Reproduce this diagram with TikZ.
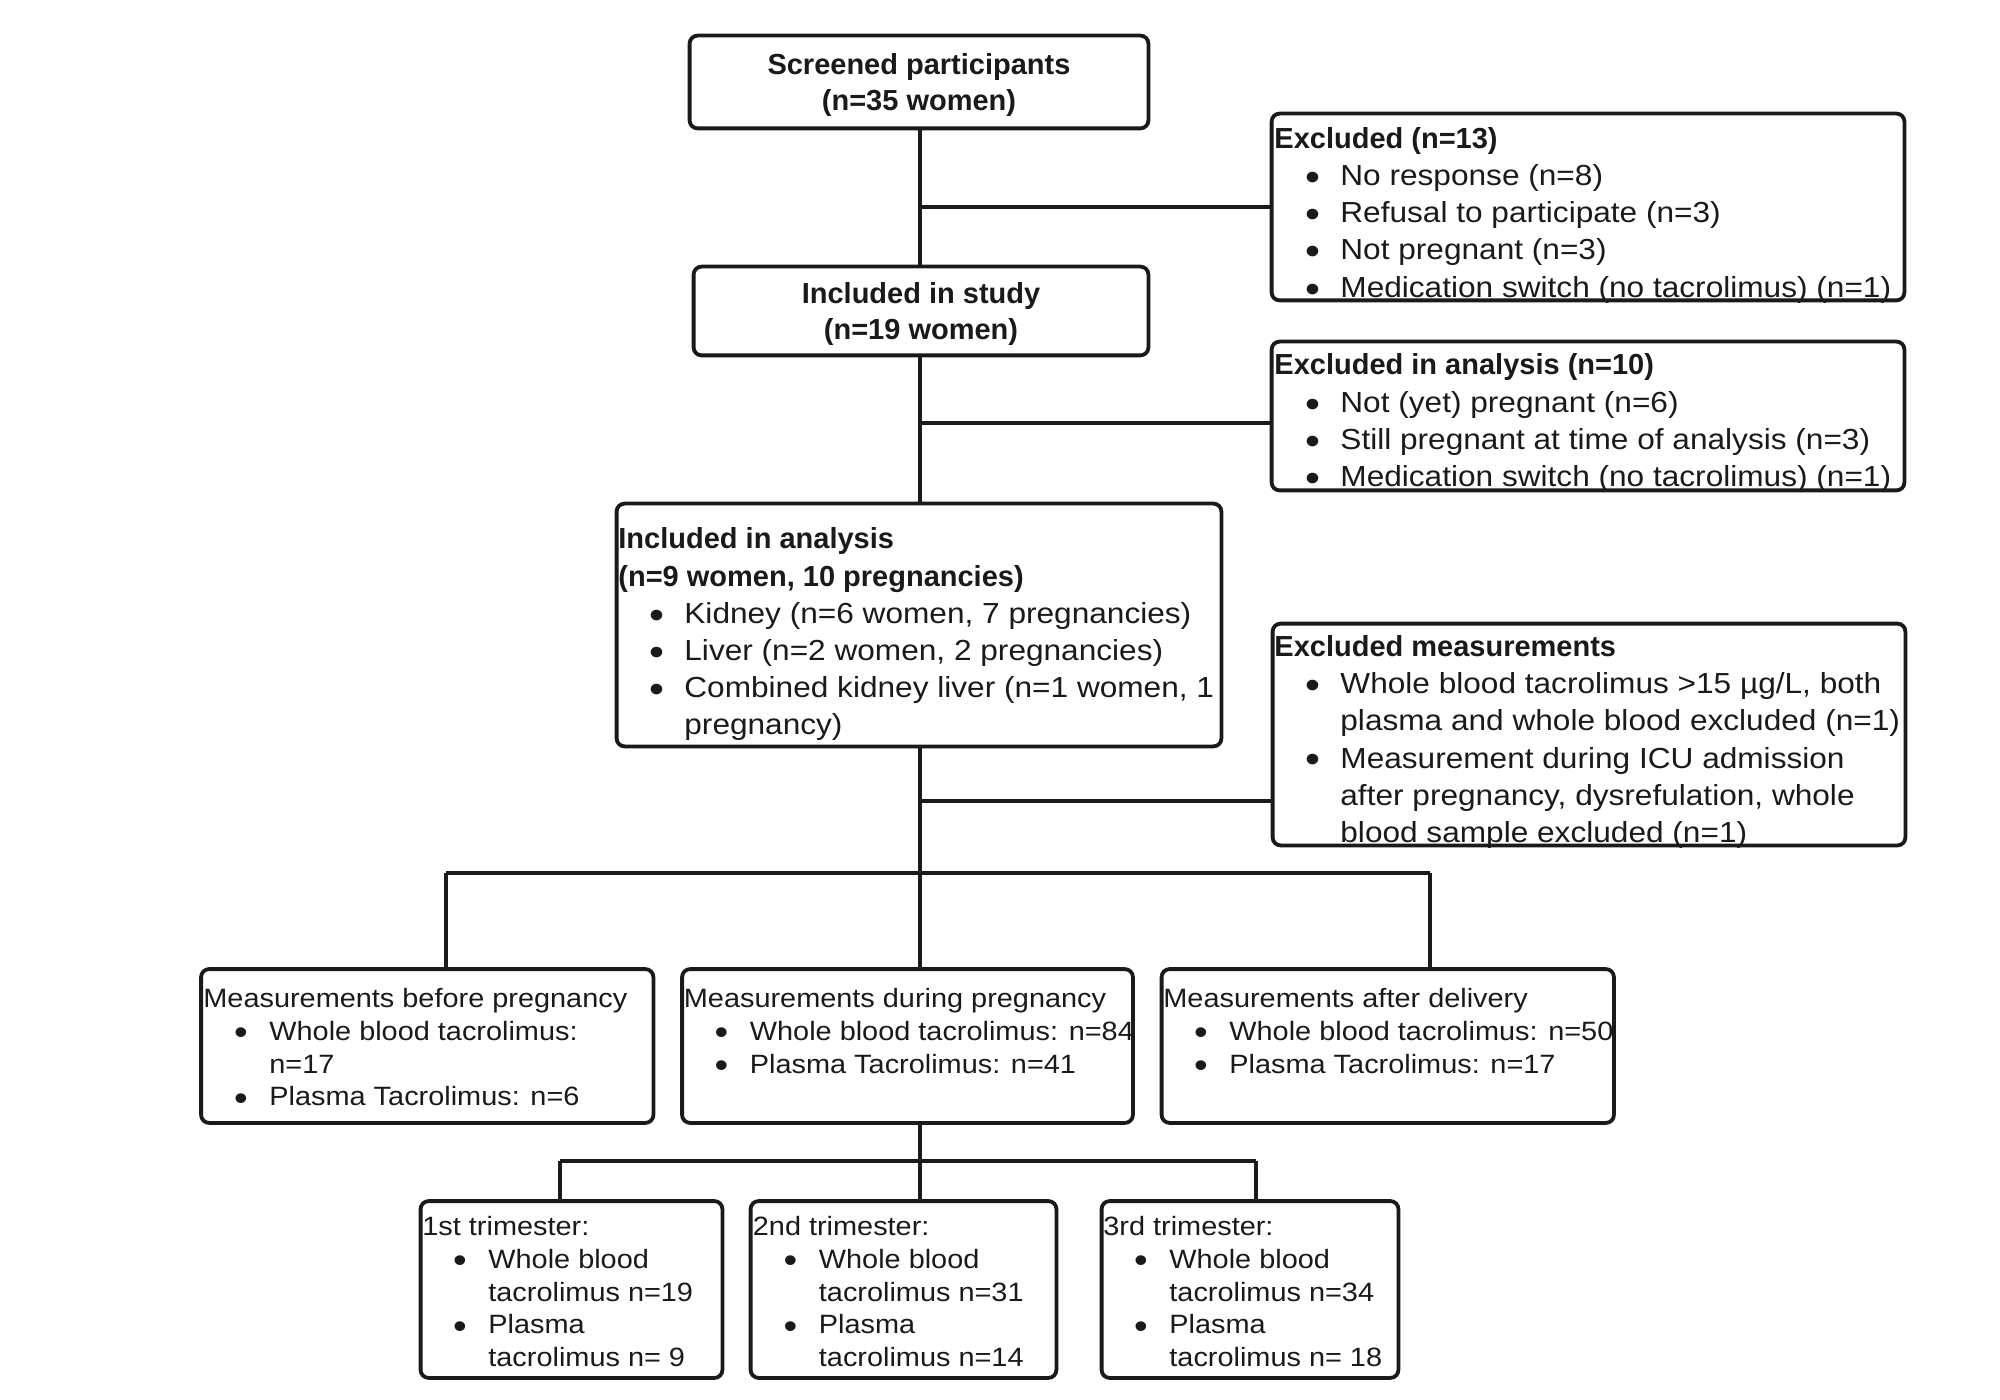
\documentclass[tikz,border=0pt]{standalone}
\usepackage{fontspec}
\setmainfont{Liberation Sans}
\newfontfamily\rg{Liberation Sans}[FakeStretch=1.09]
\usetikzlibrary{fit}
\definecolor{ink}{HTML}{1A1A1A}
\newcommand\bigf{\fontsize{14.5pt}{18.6pt}\selectfont}
\newcommand\smallf{\fontsize{13.25pt}{16.4pt}\selectfont}
\newcommand\stA{\rule{0pt}{12pt}}
\newcommand\stB{\rule{0pt}{11pt}}
\newcommand\bul{\raisebox{-0.17em}{\scalebox{1.35}{•}}}
\newcommand\bli[1]{{\rg\makebox[33pt][l]{\hspace*{15.4pt}\bul}#1}}
\newcommand\cli[1]{{\rg\hspace*{33pt}#1}}
\newcommand\hb[1]{{\bfseries #1}}
\newcommand\hr[1]{{\rg #1}}
\tikzset{
  box/.style={draw=ink, line width=1.9pt, rounded corners=4pt, fill=white, inner sep=0pt},
  conn/.style={draw=ink, line width=1.6pt},
  txtA/.style={anchor=north west, inner sep=0pt, align=left, text=ink, font=\bigf},
  txtB/.style={anchor=north west, inner sep=0pt, align=left, text=ink, font=\smallf},
  ctr/.style={inner sep=0pt, align=center, text=ink, font={\fontsize{14.5pt}{18pt}\selectfont\bfseries}},
}
\begin{document}
\begin{tikzpicture}[x=0.5pt,y=-0.5pt]
\useasboundingbox (0,0) rectangle (2000,1400);
\fill[white] (0,0) rectangle (2000,1400);

% boxes (geometry only)
\node[fit={(690,36) (1148,128)}, inner sep=0pt] (scr) {};
\node[fit={(694,267) (1148,355)}, inner sep=0pt] (stu) {};
\node[fit={(1272,114) (1904,300)}, inner sep=0pt] (ex1) {};
\node[fit={(1272,342) (1904,490)}, inner sep=0pt] (ex2) {};
\node[fit={(617,504) (1221,746)}, inner sep=0pt] (ana) {};
\node[fit={(1273,624) (1905,845)}, inner sep=0pt] (exm) {};
\node[fit={(201.5,969.5) (653,1122.5)}, inner sep=0pt] (bef) {};
\node[fit={(682.5,969.5) (1132.5,1122.5)}, inner sep=0pt] (dur) {};
\node[fit={(1162,969.5) (1613.5,1122.5)}, inner sep=0pt] (aft) {};
\node[fit={(421,1201.5) (722,1377.5)}, inner sep=0pt] (t1) {};
\node[fit={(751,1201.5) (1056,1377.5)}, inner sep=0pt] (t2) {};
\node[fit={(1102,1201.5) (1398,1377.5)}, inner sep=0pt] (t3) {};

% junction coordinates
\coordinate (sp) at (920,0);
\coordinate (j2) at (920,423);
\coordinate (j3) at (920,801);
\coordinate (bus) at (920,873);
\coordinate (bl) at (446,873);
\coordinate (br) at (1430,873);
\coordinate (lb) at (920,1161);
\coordinate (l1) at (560,1161);
\coordinate (l3) at (1256,1161);

% connectors
\draw[conn] (scr.south -| sp) -- (stu.north -| sp);
\draw[conn] (ex1.west -| sp) -- (ex1.west);
\draw[conn] (stu.south -| sp) -- (ana.north -| sp);
\draw[conn] (j2) -- (j2 -| ex2.west);
\draw[conn] (ana.south -| sp) -- (dur.north -| sp);
\draw[conn] (j3) -- (j3 -| exm.west);
\draw[conn] (bl) -- (br);
\draw[conn] (bl) -- (bl |- bef.north);
\draw[conn] (br) -- (br |- aft.north);
\draw[conn] (dur.south -| lb) -- (t2.north -| lb);
\draw[conn] (l1) -- (l3);
\draw[conn] (l1) -- (l1 |- t1.north);
\draw[conn] (l3) -- (l3 |- t3.north);

% box outlines
\foreach \b in {scr,stu,ex1,ex2,ana,exm,bef,dur,aft,t1,t2,t3}
  \draw[box] (\b.north west) rectangle (\b.south east);

% texts
\node[ctr] (scrt) at ([yshift=-1.3pt]scr.center) {Screened participants\\(n=35 women)};
\node[ctr] (stut) at ([yshift=-1.3pt]stu.center) {Included in study\\(n=19 women)};

\node[txtA] (ex1t) at (1274,124) {\stA\hb{Excluded (n=13)}\\
  \bli{No response (n=8)}\\
  \bli{Refusal to participate (n=3)}\\
  \bli{Not pregnant (n=3)}\\
  \bli{Medication switch (no tacrolimus) (n=1)}};

\node[txtA] (ex2t) at (1274,350.5) {\stA\hb{Excluded in analysis (n=10)}\\
  \bli{Not (yet) pregnant (n=6)}\\
  \bli{Still pregnant at time of analysis (n=3)}\\
  \bli{Medication switch (no tacrolimus) (n=1)}};

\node[txtA] (anat) at (618,524.5) {\stA\hb{Included in analysis}\\
  \hb{(n=9 women, 10 pregnancies)}\\
  \bli{Kidney (n=6 women, 7 pregnancies)}\\
  \bli{Liver (n=2 women, 2 pregnancies)}\\
  \bli{Combined kidney liver (n=1 women, 1}\\
  \cli{pregnancy)}};

\node[txtA] (exmt) at (1274,632) {\stA\hb{Excluded measurements}\\
  \bli{Whole blood tacrolimus >15 µg/L, both}\\
  \cli{plasma and whole blood excluded (n=1)}\\
  \bli{Measurement during ICU admission}\\
  \cli{after pregnancy, dysrefulation, whole}\\
  \cli{blood sample excluded (n=1)}};

\node[txtB] (beft) at (203,985) {\stB\hr{Measurements before pregnancy}\\
  \bli{Whole blood tacrolimus:}\\
  \cli{n=17}\\
  \bli{Plasma Tacrolimus: n=6}};

\node[txtB] (durt) at (683.5,985) {\stB\hr{Measurements during pregnancy}\\
  \bli{Whole blood tacrolimus: n=84}\\
  \bli{Plasma Tacrolimus: n=41}};

\node[txtB] (aftt) at (1163,985) {\stB\hr{Measurements after delivery}\\
  \bli{Whole blood tacrolimus: n=50}\\
  \bli{Plasma Tacrolimus: n=17}};

\node[txtB] (t1t) at (422,1213) {\stB\hr{1st trimester:}\\
  \bli{Whole blood}\\
  \cli{tacrolimus n=19}\\
  \bli{Plasma}\\
  \cli{tacrolimus n= 9}};

\node[txtB] (t2t) at (752.5,1213) {\stB\hr{2nd trimester:}\\
  \bli{Whole blood}\\
  \cli{tacrolimus n=31}\\
  \bli{Plasma}\\
  \cli{tacrolimus n=14}};

\node[txtB] (t3t) at (1103,1213) {\stB\hr{3rd trimester:}\\
  \bli{Whole blood}\\
  \cli{tacrolimus n=34}\\
  \bli{Plasma}\\
  \cli{tacrolimus n= 18}};
\end{tikzpicture}
\end{document}
